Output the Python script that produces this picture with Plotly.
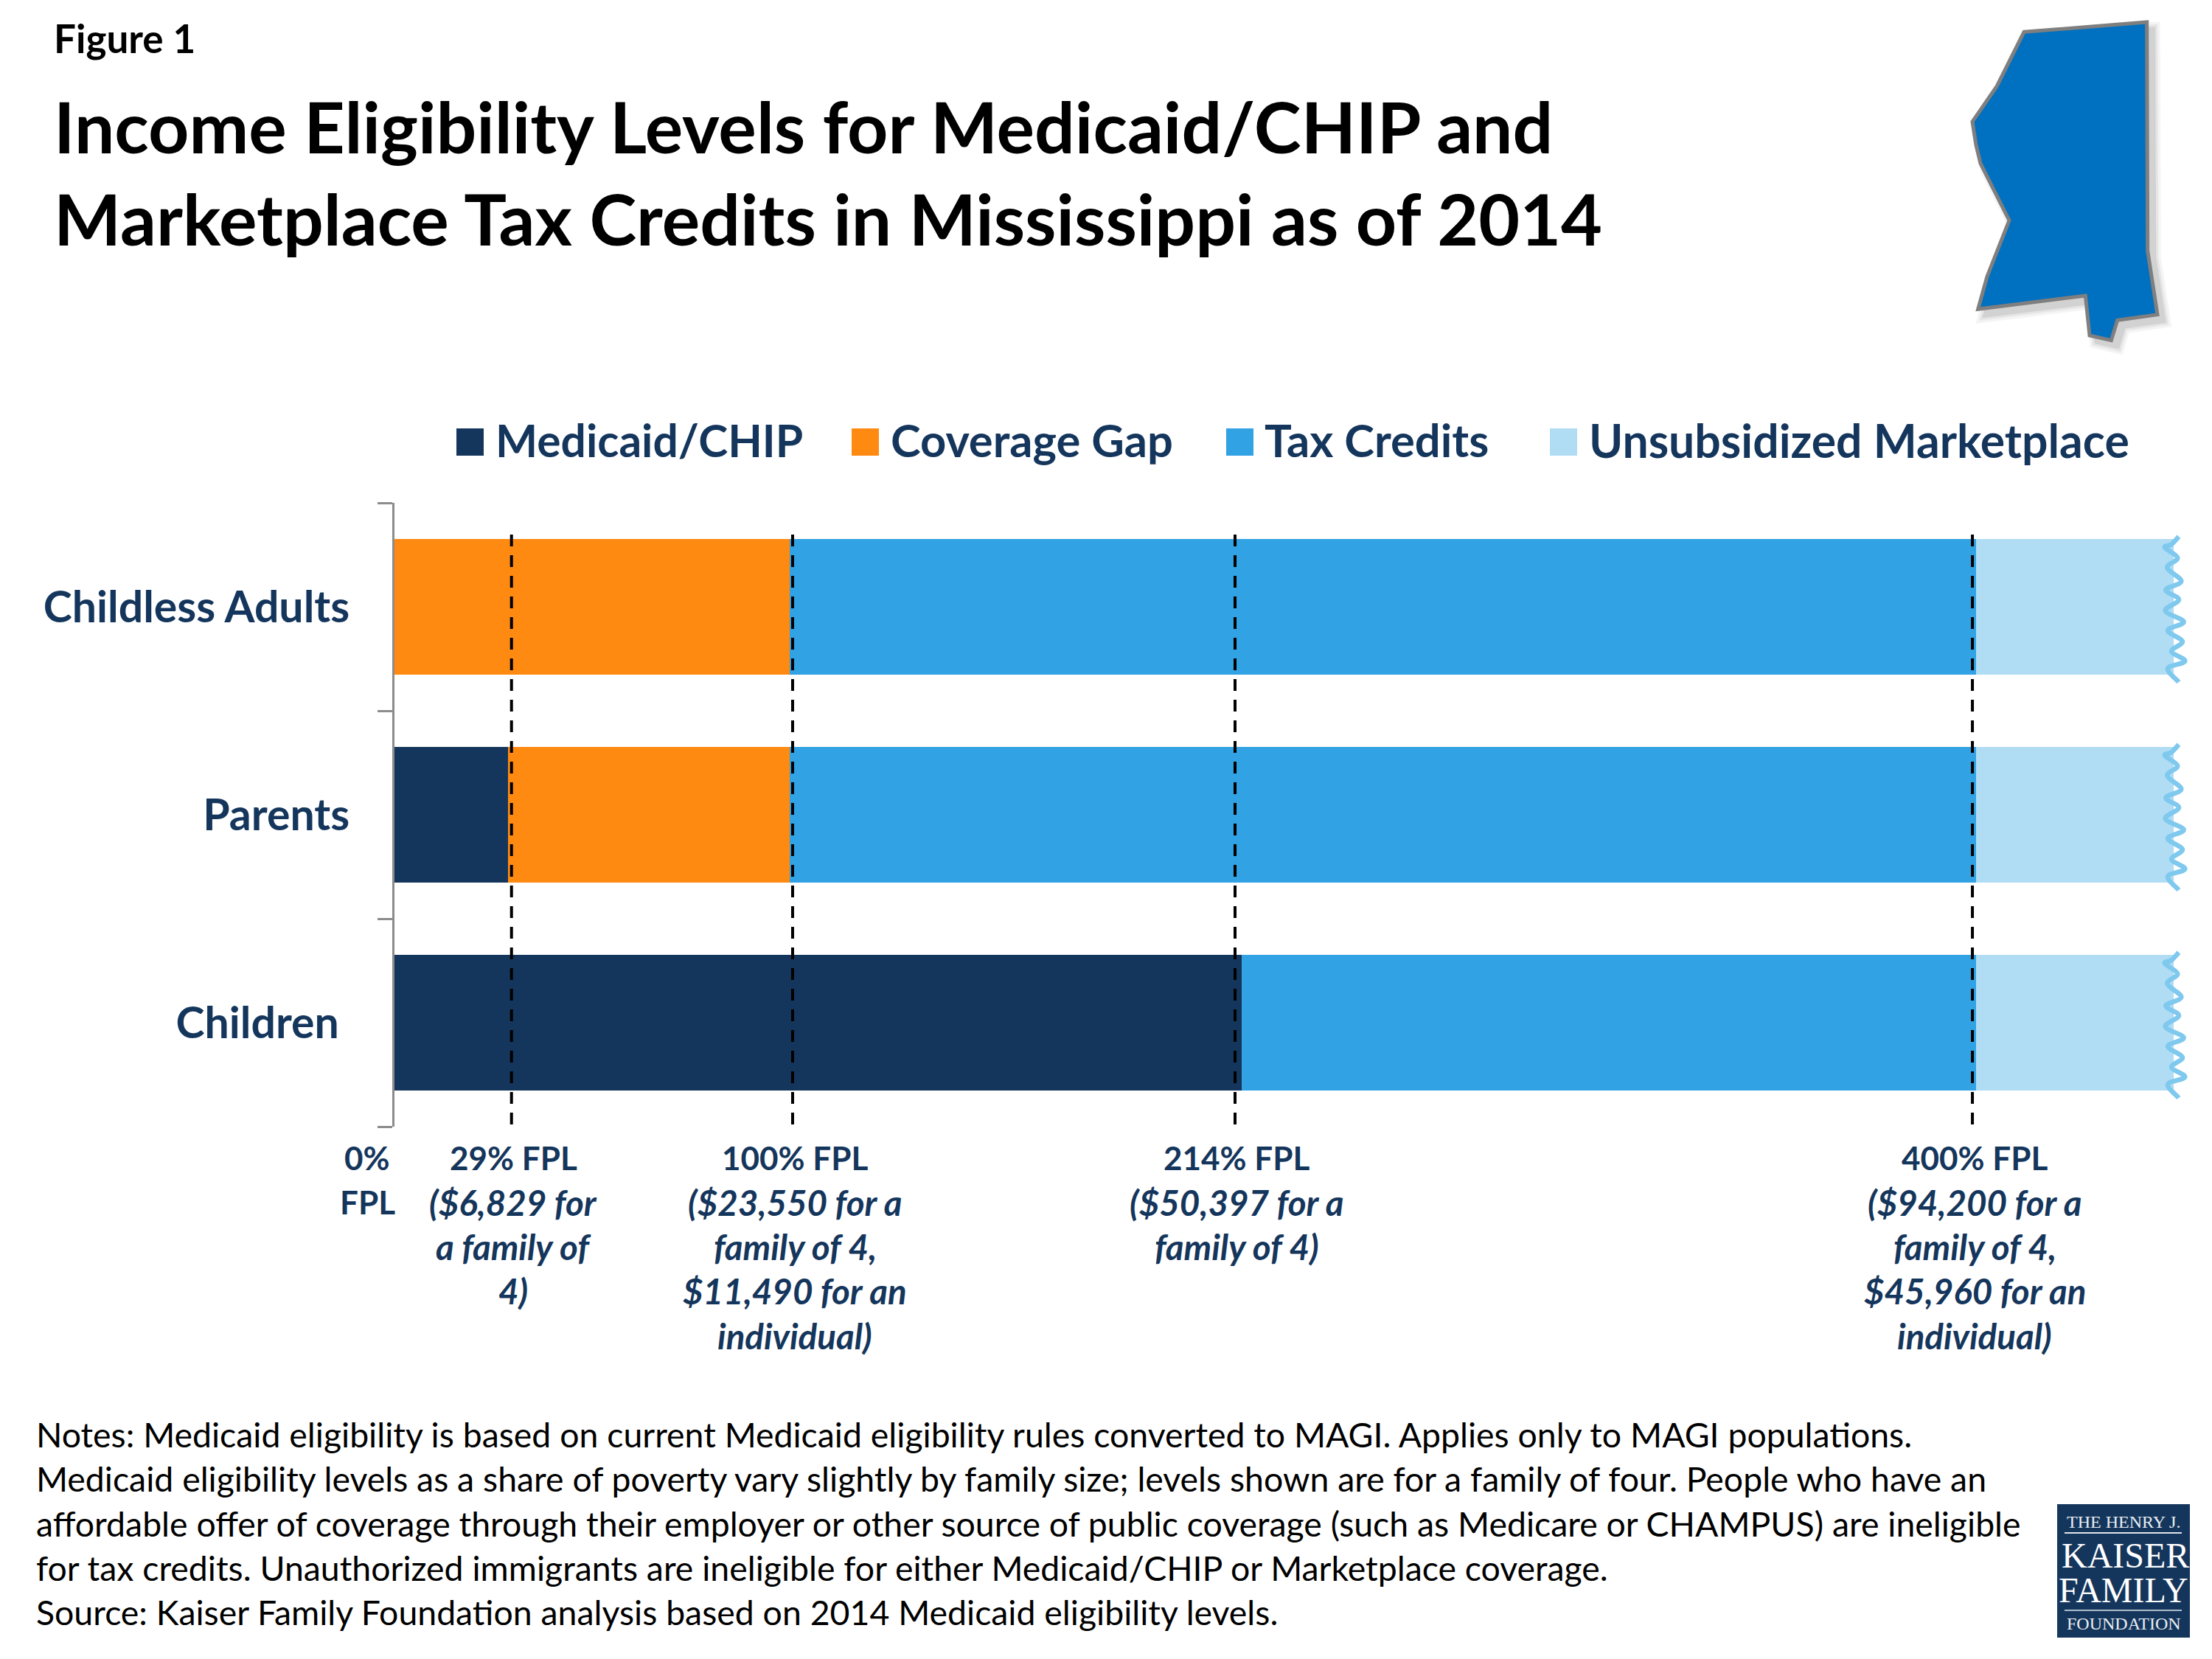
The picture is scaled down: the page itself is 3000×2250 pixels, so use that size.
import plotly.graph_objects as go

# ---- data ----
categories = ["Children\u00a0", "Parents", "Childless Adults"]
medicaid = [214.3, 28.7, 0]
coverage_gap = [0, 71.3, 100]
tax_credits = [185.7, 300, 300]
unsubsidized = [50, 50, 50]
series_names = ["Medicaid/CHIP", "Coverage Gap", "Tax Credits", "Unsubsidized Marketplace"]
fpl_lines = [29.6, 100.7, 212.6, 399.1]

figure_label = "Figure 1"
title_lines = ["Income Eligibility Levels for Medicaid/CHIP and",
               "Marketplace Tax Credits in Mississippi as of 2014"]
note_lines = [
    "Notes: Medicaid eligibility is based on current Medicaid eligibility rules converted to MAGI. Applies only to MAGI populations.",
    "Medicaid eligibility levels as a share of poverty vary slightly by family size; levels shown are for a family of four. People who have an",
    "affordable offer of coverage through their employer or other source of public coverage (such as Medicare or CHAMPUS) are ineligible",
    "for tax credits. Unauthorized immigrants are ineligible for either Medicaid/CHIP or Marketplace coverage.",
    "Source: Kaiser Family Foundation analysis based on 2014 Medicaid eligibility levels.",
]
fpl_labels = [
    (498, ["<b>0%</b>", "<b>FPL</b>"]),
    (696, ["<b>29% FPL</b>", "<b><i>($6,829 for</i></b>", "<b><i>a family of</i></b>", "<b><i>4)</i></b>"]),
    (1078, ["<b>100% FPL</b>", "<b><i>($23,550 for a</i></b>", "<b><i>family of 4,</i></b>", "<b><i>$11,490 for an</i></b>", "<b><i>individual)</i></b>"]),
    (1677, ["<b>214% FPL</b>", "<b><i>($50,397 for a</i></b>", "<b><i>family of 4)</i></b>"]),
    (2678, ["<b>400% FPL</b>", "<b><i>($94,200 for a</i></b>", "<b><i>family of 4,</i></b>", "<b><i>$45,960 for an</i></b>", "<b><i>individual)</i></b>"]),
]

NAVY = "#15365C"
ORANGE = "#FF8A12"
BLUE = "#31A2E3"
LIGHT = "#B0DDF4"
SQUIG = "#7FC8EE"
FONT = "Lato"

W, H = 3000, 2250
L, R, T, B = 535, 2948, 682, 1528


def px(x):
    return (x - L) / (R - L)


def py(y):
    return (B - y) / (B - T)


fig = go.Figure()
for name, vals, col in zip(series_names, [medicaid, coverage_gap, tax_credits, unsubsidized],
                           [NAVY, ORANGE, BLUE, LIGHT]):
    fig.add_trace(go.Bar(y=categories, x=vals, name=name, orientation="h",
                         marker=dict(color=col, line=dict(width=0)), showlegend=False))

annotations = []
shapes = []


def text(x, y, s, size, color="#000000", anchor="left", family=FONT):
    annotations.append(dict(x=px(x), y=py(y), xref="paper", yref="paper", text=s, showarrow=False,
                            xanchor=anchor, yanchor="middle", align=anchor,
                            font=dict(family=family, size=size, color=color), borderpad=0))


def rect(x0, y0, x1, y1, color):
    shapes.append(dict(type="rect", xref="paper", yref="paper", x0=px(x0), x1=px(x1), y0=py(y0), y1=py(y1),
                       fillcolor=color, line=dict(width=0), layer="above"))


def poly(points, fill=None, line_color=None, line_width=0, opacity=1.0, closed=True):
    d = "M" + "L".join(f"{px(a):.5f},{py(b):.5f}" for a, b in points) + ("Z" if closed else "")
    shapes.append(dict(type="path", xref="paper", yref="paper", path=d, fillcolor=fill or "rgba(0,0,0,0)",
                       line=dict(color=line_color or "rgba(0,0,0,0)", width=line_width), opacity=opacity,
                       layer="above"))


# header
text(72, 51, f"<b>{figure_label}</b>", 53)
text(72, 171, f"<b>{title_lines[0]}</b>", 96.5)
text(72, 296, f"<b>{title_lines[1]}</b>", 96.5)

# legend
legend_items = [(619, 671, 0, 60.5), (1155, 1207, 1, 61.5), (1663, 1714, 2, 61.5), (2102, 2154, 3, 62.5)]
for sx, tx, i, size in legend_items:
    rect(sx, 581, sx + 37, 618, [NAVY, ORANGE, BLUE, LIGHT][i])
    text(tx, 596, f"<b>{series_names[i]}</b>", size, NAVY)

# dashed reference lines
for v in fpl_lines:
    shapes.append(dict(type="line", xref="x", yref="paper", x0=v, x1=v, y0=py(725), y1=py(1525),
                       line=dict(color="#000000", width=4, dash="16px,12px"), layer="above"))

# torn right edges
squiggle = [(1065, 143), (1035, 175), (1008, 188), (1060, 230), (1018, 270), (1075, 325), (1012, 360),
            (1065, 400), (1010, 445), (1085, 490), (1020, 525), (1080, 570), (1035, 610), (1090, 650),
            (1020, 680), (1065, 735)]
for r in range(3):
    pts = [(2600 + a / 3, 680 + b / 3 + 282 * r) for a, b in squiggle]
    d = f"M{px(pts[0][0]):.5f},{py(pts[0][1]):.5f}"
    for i in range(len(pts) - 1):
        p0 = pts[max(i - 1, 0)]
        p1 = pts[i]
        p2 = pts[i + 1]
        p3 = pts[min(i + 2, len(pts) - 1)]
        c1 = (p1[0] + (p2[0] - p0[0]) / 6, p1[1] + (p2[1] - p0[1]) / 6)
        c2 = (p2[0] - (p3[0] - p1[0]) / 6, p2[1] - (p3[1] - p1[1]) / 6)
        d += (f"C{px(c1[0]):.5f},{py(c1[1]):.5f} {px(c2[0]):.5f},{py(c2[1]):.5f} "
              f"{px(p2[0]):.5f},{py(p2[1]):.5f}")
    shapes.append(dict(type="path", xref="paper", yref="paper", path=d,
                       line=dict(color=SQUIG, width=6.5), layer="above"))

# x labels
for cx, lines in fpl_labels:
    for i, s in enumerate(lines):
        text(cx, 1570 + 60.3 * i, s, 47.5 if "<i>" in s else 44, NAVY, anchor="center")

# notes
for i, s in enumerate(note_lines):
    text(48, 1945 + 60.3 * i, s, 46.4, "#000000")

# state outline
state = [(435, 130), (935, 90), (938, 1020), (978, 1280), (815, 1303), (790, 1385), (702, 1365), (685, 1203),
         (248, 1258), (285, 1125), (375, 897), (258, 665), (240, 590), (225, 495), (325, 350)]
state_px = [(2600 + a / 3, b / 3) for a, b in state]
for w, op in [(18, 0.08), (11, 0.12), (5, 0.18)]:
    poly([(a + 9, b + 9) for a, b in state_px], fill="#7F7F7F", line_color="#7F7F7F", line_width=w, opacity=op)
poly(state_px, fill="#0070C0", line_color="#7F7F7F", line_width=5)

# logo
rect(2790, 2040, 2970, 2221, "#15365C")
rect(2800, 2078, 2959, 2080, "#DDE4EC")
rect(2800, 2183, 2959, 2185, "#AEBCCC")
LOGO = "Liberation Serif"
text(2880, 2064, "THE HENRY J.", 24, "#E8EDF2", "center", LOGO)
text(2882, 2109, "KAISER", 48, "#FFFFFF", "center", LOGO)
text(2880, 2156, "FAMILY", 48, "#FFFFFF", "center", LOGO)
text(2880, 2202, "FOUNDATION", 24, "#E8EDF2", "center", LOGO)

fig.update_layout(
    width=W, height=H, autosize=False,
    margin=dict(l=L, r=W - R, t=T, b=H - B, pad=0),
    paper_bgcolor="#FFFFFF", plot_bgcolor="#FFFFFF",
    barmode="stack", bargap=1 - 184 / 282,
    showlegend=False,
    annotations=annotations, shapes=shapes,
    xaxis=dict(range=[0, 450], showgrid=False, zeroline=False, showline=False, showticklabels=False, ticks=""),
    yaxis=dict(categoryorder="array", categoryarray=categories, tickson="boundaries", ticks="outside",
               ticklen=20, tickwidth=3, tickcolor="#8C8C8C", showline=True, linecolor="#8C8C8C", linewidth=3,
               showgrid=False, zeroline=False, ticklabelstandoff=46,
               tickfont=dict(family=FONT, size=59, color=NAVY, weight=700)),
)
fig.write_html("out.html", config=dict(displayModeBar=False),
               post_script="document.body.style.margin='0';")
